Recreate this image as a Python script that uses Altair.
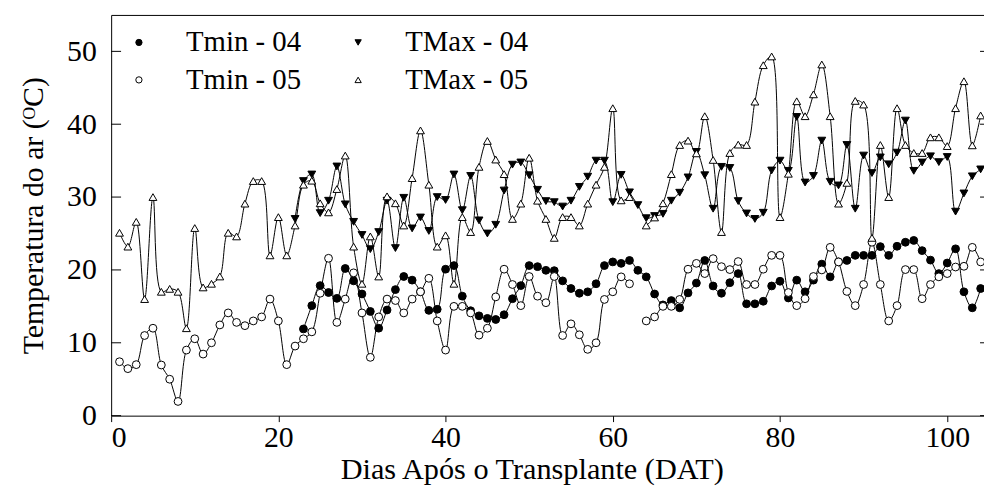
import altair as alt
import pandas as pd

# ---------------- data ----------------
days = list(range(1, 105))

tmin_04 = [None] * 22 + [
    11.9, 15.1, 17.85, 16.9, 16.1, 20.2, 18.5, 16.7, 14.3, 12.0,
    14.5, 17.3, 19.1, 18.6, 17.0, 14.45, 14.6, 20.1, 20.6, 16.4,
    14.4, 13.7, 13.35, 13.2, 13.85, 16.05, 17.85, 20.6, 20.45, 19.95,
    19.9, 18.5, 17.45, 16.8, 17.0, 18.1, 20.6, 21.1, 20.9, 21.3,
    19.95, 19.05, 16.7, 15.2, 15.8, 14.8, 16.85, 18.2, 21.3, 17.8,
    16.8, 18.25, 19.5, 15.35, 15.35, 15.7, 17.8, 18.45, 16.15, 18.6,
    17.0, 18.6, 20.8, 19.05, 21.1, 21.3, 22.0, 22.0, 22.0, 23.2,
    22.0, 23.25, 23.8, 24.05, 22.65, 21.35, 19.5, 20.95, 22.9, 17.0,
    14.8, 17.45,
]

tmax_04 = [None] * 21 + [
    27.0, 32.2, 33.1, 27.8, 29.5, 34.2, 29.0, 26.6, 24.8, 22.85,
    25.2, 29.5, 23.0, 29.9, 25.7, 27.2, 25.35, 30.0, 29.6, 33.1,
    28.2, 32.9, 26.8, 25.0, 26.2, 30.9, 34.45, 34.75, 33.0, 31.0,
    29.45, 29.3, 28.7, 29.5, 31.4, 32.8, 35.0, 35.0, 29.3, 33.05,
    30.65, 28.9, 27.1, 27.4, 27.7, 29.5, 30.6, 32.7, 36.2, 33.0,
    28.4, 34.15, 34.0, 29.45, 27.75, 27.0, 27.85, 33.65, 35.0, 33.6,
    41.0, 32.0, 32.9, 37.75, 32.1, 31.6, 37.15, 28.4, 35.7, 33.3,
    35.45, 34.5, 36.1, 40.5, 33.6, 34.75, 35.6, 34.8, 35.5, 28.0,
    30.5, 32.85, 33.8,
]

tmin_05 = [
    7.4, 6.45, 7.0, 11.0, 12.0, 6.95, 5.0, 1.95, 9.0, 10.55,
    8.45, 10.0, 12.45, 14.1, 12.8, 12.35, 13.0, 13.55, 16.0, 13.0,
    7.0, 9.55, 10.55, 11.5, 16.8, 21.6, 12.8, 16.0, 19.6, 14.1,
    8.0, 13.55, 16.0, 15.8, 14.1, 16.0, 17.0, 18.85, 13.0, 9.0,
    15.0, 15.0, 14.1, 11.05, 12.0, 16.3, 20.1, 18.0, 15.1, 19.1,
    16.4, 15.5, 19.1, 11.0, 12.6, 11.1, 9.1, 10.0, 15.95, 17.0,
    19.05, 18.1, None, 13.0, 13.55, 15.0, 15.0, 15.95, 20.1, 20.9,
    19.5, 21.55, 20.45, 20.05, 21.15, 18.0, 18.0, 20.1, 22.0, 22.0,
    16.9, 15.1, 16.05, 19.1, 20.0, 23.1, 21.1, 17.05, 15.1, 18.0,
    23.8, 18.0, 13.0, 15.1, 20.05, 20.05, 16.05, 18.0, 19.05, 19.5,
    20.4, 20.5, 23.1, 21.1,
]

tmax_05 = [
    25.1, 23.2, 26.6, 16.0, 30.0, 17.0, 17.4, 17.0, 12.0, 25.75,
    17.6, 18.1, 19.1, 25.1, 24.6, 29.1, 32.2, 32.2, 22.0, 27.25,
    22.0, 26.1, 31.7, 32.25, 29.15, 27.9, 31.1, 35.7, 23.2, 18.1,
    24.6, 19.1, 30.1, 29.15, 26.1, 32.6, 39.15, 31.7, 23.2, 24.75,
    18.1, 27.25, 25.2, 34.15, 37.7, 35.15, 33.15, 27.0, 29.1, 35.4,
    29.5, 27.0, 24.4, 27.25, 27.25, 26.1, 29.1, 31.7, 34.15, 42.2,
    29.55, 30.0, None, 26.1, 27.2, 29.15, 33.15, 37.15, 37.75, 36.0,
    41.1, 35.1, 25.2, 36.05, 37.2, 37.15, 43.1, 48.1, 49.3, 27.25,
    33.2, 43.15, 41.1, 44.1, 48.2, 41.1, 29.1, 31.95, 43.2, 42.7,
    24.4, 37.15, 30.0, 42.2, 37.15, 36.05, 36.05, 38.2, 38.2, 37.0,
    42.2, 45.9, 37.1, 41.2,
]

series_names = ["Tmin - 04", "TMax - 04", "Tmin - 05", "TMax - 05"]
# legend order (filled column by column: left column Tmin, right column TMax)
legend_order = ["Tmin - 04", "Tmin - 05", "TMax - 04", "TMax - 05"]
legend_fills = ["black", "white", "black", "white"]
legend_shapes = ["circle", "circle", "triangle-down", "triangle-up"]
x_ticks = [0, 20, 40, 60, 80, 100]
y_ticks = [0, 10, 20, 30, 40, 50]

# ---------------- long table ----------------
rows = []
for name, vals in zip(series_names, [tmin_04, tmax_04, tmin_05, tmax_05]):
    seg = 0
    for d, v in zip(days, vals):
        if v is None:
            seg += 1
            continue
        rows.append({"day": d, "temp": v, "series": name, "seg": f"{name}-{seg}"})
df = pd.DataFrame(rows)
tick_df = pd.DataFrame({"tick": y_ticks})

FONT = "Liberation Serif"
W, H = 880, 404

xscale = alt.Scale(domain=[0, 104.4], nice=False, zero=False)
yscale = alt.Scale(domain=[0, 55], nice=False, zero=False)

bottom_axis = alt.Axis(
    orient="bottom", values=x_ticks, format="d", grid=False,
    title="Dias Após o Transplante (DAT)",
    domainColor="black", domainWidth=1, tickColor="black", tickWidth=1, tickSize=6,
    labelFont=FONT, labelFontSize=30, labelColor="black", labelPadding=1,
    titleFont=FONT, titleFontSize=30.5, titleFontWeight="normal", titleColor="black",
    titlePadding=2, titleX=424,
)
top_axis = alt.Axis(orient="top", labels=False, ticks=False, title=None, grid=False,
                    domainColor="black", domainWidth=1)
left_axis = alt.Axis(
    orient="left", values=y_ticks, format="d", grid=False, ticks=False,
    title="Temperatura do ar (ᴼC)",
    domainColor="black", domainWidth=1,
    labelFont=FONT, labelFontSize=30, labelColor="black", labelPadding=15,
    titleFont=FONT, titleFontSize=30, titleFontWeight="normal", titleColor="black",
    titlePadding=18,
)

legend = alt.Legend(
    title=None, orient="none", legendX=13.5, legendY=13, columns=2,
    labelFont=FONT, labelFontSize=29, labelColor="black",
    symbolSize=40, symbolStrokeColor="black", symbolStrokeWidth=1,
    labelOffset=33, columnPadding=43, rowPadding=8, padding=0,
)

base = alt.Chart(df)

lines = base.mark_line(interpolate="catmull-rom", color="black", strokeWidth=1).encode(
    x=alt.X("day:Q", scale=xscale, axis=bottom_axis),
    y=alt.Y("temp:Q", scale=yscale, axis=left_axis),
    detail="seg:N",
    order="day:Q",
)

points = base.mark_point(size=62, opacity=1, strokeWidth=1).encode(
    x=alt.X("day:Q", scale=xscale, axis=top_axis),
    y=alt.Y("temp:Q", scale=yscale, axis=left_axis),
    fill=alt.Fill("series:N", scale=alt.Scale(domain=legend_order, range=legend_fills), legend=legend),
    shape=alt.Shape("series:N", scale=alt.Scale(domain=legend_order, range=legend_shapes), legend=legend),
    stroke=alt.Stroke("series:N", scale=alt.Scale(domain=legend_order, range=["black"] * 4), legend=legend),
)

left_ticks = alt.Chart(tick_df).mark_rule(color="black", strokeWidth=1).encode(
    y=alt.Y("tick:Q", scale=yscale, axis=left_axis),
    x=alt.value(0), x2=alt.value(10),
)
right_ticks = alt.Chart(tick_df).mark_rule(color="black", strokeWidth=1).encode(
    y=alt.Y("tick:Q", scale=yscale, axis=left_axis),
    x=alt.value(W - 4), x2=alt.value(W),
)

chart = (
    alt.layer(lines, points, left_ticks, right_ticks)
    .resolve_axis(x="independent")
    .properties(
        width=W, height=H,
        autosize=alt.AutoSizeParams(type="none"),
        padding={"left": 104, "top": 5, "right": 0, "bottom": 76},
        background="white",
    )
    .configure_view(stroke=None)
)

chart.save("out.html", embed_options={"renderer": "svg", "actions": False})
